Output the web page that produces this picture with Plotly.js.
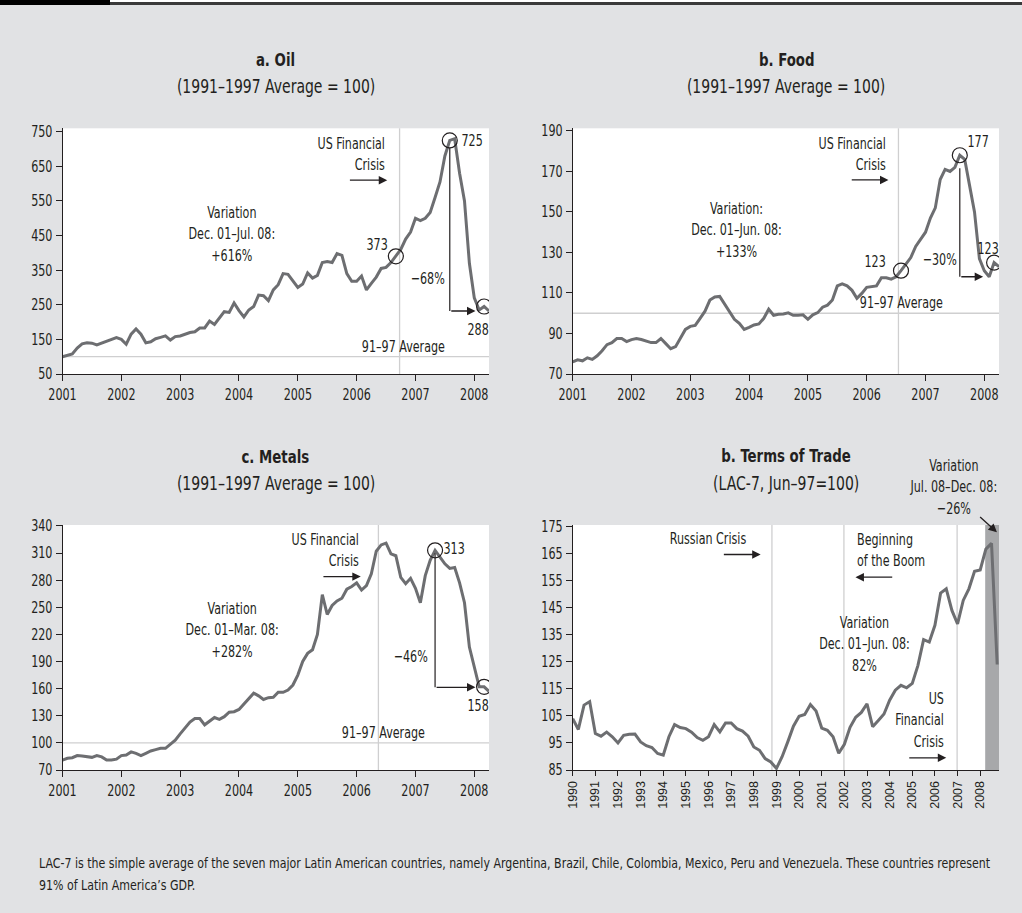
<!DOCTYPE html>
<html><head><meta charset="utf-8">
<script src="https://cdn.plot.ly/plotly-3.0.1.min.js"></script>
<style>html,body{margin:0;padding:0;background:#e1e2e4;}#chart{width:1022px;height:913px;}</style>
</head><body><div id="chart"></div>
<script>
// ---------- DATA ----------
const monthlyStartYear = 2001;
const oilValues = [100,104,108,125,137,140,139,134,139,145,150,155,
  150,136,165,180,165,140,143,152,156,160,148,158,
  160,165,170,172,183,183,203,193,210,230,228,255,
  233,215,235,245,278,276,262,293,308,340,338,320,
  300,310,342,327,335,372,375,372,398,393,340,318,
  318,333,293,312,330,355,358,372,390,410,440,460,
  500,493,500,517,560,605,680,725,730,630,550,370,
  270,235,245,232];
const foodValues = [76,77,76.5,78,77.2,79,81.5,84.5,85.5,87.5,87.5,86,
  87,87.5,87,86.2,85.5,85.5,87.5,85,82.5,83.5,87.5,92,
  93.5,94,97.5,101,106.5,108,108.3,104.5,101,97,95,92,
  93,94.2,94.7,97.5,102,99,99.5,99.6,100.2,99,99,99.2,
  97,99.2,100.3,103,104,106.5,113.5,114.5,113.5,111.3,107.4,109.8,
  112.8,113.3,113.5,117.5,117.5,116.8,118,121,124,127.5,133,136.5,
  140,147,152,166,171,170,172,178,176,163,150,127,
  121,118,125,123];
const metalsValues = [81,83,83.6,86,85.5,84.5,84,85.9,84.5,81,81,82,
  85.9,86.6,90,88.4,86,88.5,91,92.5,94,94,99,103,
  110,116,123,127,127,120,124,128,126,129,134,134.5,
  137,143,148,155,152,148,150,150.4,156,156,158.5,164,
  175,190,199,203,220,264,242,252,257,260,270,273,
  277,269,274,287,312,319,321,309,307,283,276,282,
  271,255,285,302,313,305,298,293,294,277,255,206,
  185,162,162,157];
const totStartYear = 1990;
const totValues = [104,100,109,110.3,98.5,97.5,99,97.3,95,97.8,98.2,98.3,
  95.4,94,93.3,91.1,90.5,97.3,101.8,100.7,100.3,99,97,96,
  97.3,101.8,99.1,102.4,102.4,100.3,99.4,97.5,93.5,92.3,89.2,88,
  85.6,89.9,95.4,101.2,104.9,105.5,109.2,106.8,100.5,99.7,97.3,91.2,
  94.5,100.8,104.5,106.3,109.5,101,103.3,105.7,110.8,114.5,116.3,115.4,
  117,123.7,133.2,132.3,138.5,150.4,152,144,139,147.7,152,158.5,
  159,166.7,168.8,124];
const commodityYears = [2001,2002,2003,2004,2005,2006,2007,2008];
const totYears = [1990,1991,1992,1993,1994,1995,1996,1997,1998,1999,2000,2001,2002,2003,2004,2005,2006,2007,2008];
const oilTicks = [50,150,250,350,450,550,650,750];
const foodTicks = [70,90,110,130,150,170,190];
const metalsTicks = [70,100,130,160,190,220,250,280,310,340];
const totTicks = [85,95,105,115,125,135,145,155,165,175];
const averageLevel = 100;
const oilCircleIdx = [68,79,86];
const foodCircleIdx = [67,79,86];
const metalsCircleIdx = [76,86];

// ---------- HELPERS ----------
const monthX = arr => arr.map((_, i) => monthlyStartYear + i / 12);
const quarterX = arr => arr.map((_, i) => totStartYear + i / 4);
const W = 1022, H = 913;
const px = v => v / W, py = v => 1 - v / H;
const TXT = '#231f20';
const NARROW = '"Liberation Sans Narrow","Arial Narrow","DejaVu Sans Condensed",sans-serif';
const LINE = '#6d6e71';
// font sizes and the horizontal condensing applied to each
const F_TITLE = 18.5, F_SUB = 19, F_ANN = 16.5, F_TICK = 15.5, F_NOTE = 14;
const CONDENSE = {18.5: 0.8, 19: 0.82, 16.5: 0.75, 15.5: 0.8, 14: 0.875};

function series(vals, xs, xa, ya) {
  return {x: xs, y: vals, xaxis: xa, yaxis: ya, type: 'scatter', mode: 'lines',
    line: {color: LINE, width: 3}, hoverinfo: 'skip', showlegend: false};
}
function circles(vals, xs, idx, xa, ya) {
  return {x: idx.map(i => xs[i]), y: idx.map(i => vals[i]), xaxis: xa, yaxis: ya,
    type: 'scatter', mode: 'markers', showlegend: false, hoverinfo: 'skip',
    marker: {symbol: 'circle-open', size: 15, color: TXT, line: {width: 1.2, color: TXT}}};
}
const oX = monthX(oilValues), fX = monthX(foodValues), mX = monthX(metalsValues), tX = quarterX(totValues);

const data = [
  series(oilValues, oX, 'x', 'y'), circles(oilValues, oX, oilCircleIdx, 'x', 'y'),
  series(foodValues, fX, 'x2', 'y2'), circles(foodValues, fX, foodCircleIdx, 'x2', 'y2'),
  series(metalsValues, mX, 'x3', 'y3'), circles(metalsValues, mX, metalsCircleIdx, 'x3', 'y3'),
  series(totValues, tX, 'x4', 'y4')
];

function axis(extra) {
  return Object.assign({showline: true, linecolor: TXT, linewidth: 1, ticks: 'outside', ticklen: 6,
    tickcolor: TXT, tickwidth: 1, showgrid: false, zeroline: false, fixedrange: true,
    tickfont: {family: NARROW, size: F_TICK, color: TXT}}, extra);
}
const domX1 = [px(62.5), px(489)], domX2 = [px(572.7), px(999)];
const domTop = [py(374), py(128.3)], domBot = [py(770), py(525)];

const layout = {
  width: W, height: H, margin: {l: 0, r: 0, t: 0, b: 0},
  paper_bgcolor: '#e1e2e4', plot_bgcolor: '#ffffff', showlegend: false,
  font: {family: NARROW, color: TXT, size: F_ANN},
  xaxis: axis({domain: domX1, anchor: 'y', range: [2001, 2008.25], tickvals: commodityYears}),
  yaxis: axis({domain: domTop, anchor: 'x', range: [50, 760], tickvals: oilTicks}),
  xaxis2: axis({domain: domX2, anchor: 'y2', range: [2001, 2008.25], tickvals: commodityYears}),
  yaxis2: axis({domain: domTop, anchor: 'x2', range: [70, 191.3], tickvals: foodTicks}),
  xaxis3: axis({domain: domX1, anchor: 'y3', range: [2001, 2008.25], tickvals: commodityYears}),
  yaxis3: axis({domain: domBot, anchor: 'x3', range: [70, 341], tickvals: metalsTicks}),
  xaxis4: axis({domain: domX2, anchor: 'y4', range: [1990, 2008.83], tickvals: totYears, tickangle: -90,
    ticklen: 5, tickfont: {family: '"Liberation Sans",sans-serif', size: 12.5, color: TXT}}),
  yaxis4: axis({domain: domBot, anchor: 'x4', range: [85, 175.6], tickvals: totTicks}),
  shapes: [], annotations: []
};

const S = layout.shapes, A = layout.annotations;
// header
S.push({type: 'rect', xref: 'paper', yref: 'paper', x0: px(110), x1: 1, y0: py(2), y1: 1, fillcolor: '#ffffff', line: {width: 0}});
S.push({type: 'rect', xref: 'paper', yref: 'paper', x0: px(110), x1: 1, y0: py(5), y1: py(2), fillcolor: '#3a3a3a', line: {width: 0}});
S.push({type: 'rect', xref: 'paper', yref: 'paper', x0: 0, x1: px(110), y0: py(5), y1: 1, fillcolor: '#000000', line: {width: 0}});

const REF = '#cfcfd0';
function hline(xa, ya, yv) { S.push({type: 'line', layer: 'below', xref: xa + ' domain', yref: ya, x0: 0, x1: 1, y0: yv, y1: yv, line: {color: REF, width: 1.3}}); }
function vline(xa, ya, xv) { S.push({type: 'line', layer: 'below', xref: xa, yref: ya + ' domain', x0: xv, x1: xv, y0: 0, y1: 1, line: {color: REF, width: 1.3}}); }
function seg(xa, ya, x0, y0, x1, y1) { S.push({type: 'line', xref: xa, yref: ya, x0, y0, x1, y1, line: {color: TXT, width: 1.2}}); }
function txt(xa, ya, x, y, t, opt) { A.push(Object.assign({xref: xa, yref: ya, x, y, text: t, showarrow: false, xanchor: 'center', yanchor: 'middle', font: {family: NARROW, size: F_ANN, color: TXT}}, opt || {})); }
function arrow(xa, ya, x0, y0, x1, y1) { A.push({xref: xa, yref: ya, axref: xa, ayref: ya, x: x1, y: y1, ax: x0, ay: y0, text: '', showarrow: true, arrowhead: 2, arrowsize: 1.3, arrowwidth: 1.3, arrowcolor: TXT, standoff: 0, startstandoff: 0}); }

// titles
function title(xc, yt, ys, t, s) {
  txt('paper', 'paper', xc, yt, '<b>' + t + '</b>', {font: {family: NARROW, size: F_TITLE, color: TXT}});
  txt('paper', 'paper', xc, ys, s, {font: {family: NARROW, size: F_SUB, color: TXT}});
}
title(px(275.7), py(59), py(86), 'a. Oil', '(1991–1997 Average = 100)');
title(px(786), py(59), py(86), 'b. Food', '(1991–1997 Average = 100)');
title(px(275.7), py(456), py(483), 'c. Metals', '(1991–1997 Average = 100)');
title(px(786), py(455), py(483), 'b. Terms of Trade', '(LAC-7, Jun–97=100)');

// Oil
hline('x', 'y', averageLevel); vline('x', 'y', 2006.73);
txt('x', 'y', 2006.516, 686, 'US Financial<br>Crisis', {xanchor: 'right', align: 'right'});
arrow('x', 'y', 2005.86, 610, 2006.52, 610);
txt('x', 'y', 2003.88, 456, 'Variation<br>Dec. 01–Jul. 08:<br>+616%');
txt('x', 'y', 2006.35, 425, '373');
txt('x', 'y', 2007.96, 726, '725');
txt('x', 'y', 2007.2, 327, '−68%');
txt('x', 'y', 2008.07, 180, '288');
txt('x', 'y', 2006.8, 129, '91–97 Average');
seg('x', 'y', oX[79], 703, oX[79], 232);
arrow('x', 'y', oX[79], 232, 2008.02, 232);

// Food
hline('x2', 'y2', averageLevel); vline('x2', 'y2', 2006.54);
txt('x2', 'y2', 2006.37, 178.7, 'US Financial<br>Crisis', {xanchor: 'right', align: 'right'});
arrow('x2', 'y2', 2005.72, 165.8, 2006.37, 165.8);
txt('x2', 'y2', 2003.78, 141, 'Variation:<br>Dec. 01–Jun. 08:<br>+133%');
txt('x2', 'y2', 2007.9, 184.7, '177');
txt('x2', 'y2', 2007.24, 126.6, '−30%');
txt('x2', 'y2', 2008.07, 132, '123');
txt('x2', 'y2', 2006.14, 125.5, '123');
txt('x2', 'y2', 2006.6, 105.2, '91–97 Average');
seg('x2', 'y2', fX[79], 171.6, fX[79], 118);
arrow('x2', 'y2', fX[79], 118, 2007.98, 118);

// Metals
hline('x3', 'y3', averageLevel); vline('x3', 'y3', 2006.37);
txt('x3', 'y3', 2006.07, 312.9, 'US Financial<br>Crisis', {xanchor: 'right', align: 'right'});
arrow('x3', 'y3', 2005.41, 283.9, 2006.07, 283.9);
txt('x3', 'y3', 2003.88, 224.9, 'Variation<br>Dec. 01–Mar. 08:<br>+282%');
txt('x3', 'y3', 2007.65, 315, '313');
txt('x3', 'y3', 2006.92, 195.4, '−46%');
txt('x3', 'y3', 2008.07, 140.8, '158');
txt('x3', 'y3', 2006.45, 111.3, '91–97 Average');
seg('x3', 'y3', mX[76], 309.8, mX[76], 161.5);
arrow('x3', 'y3', mX[76], 161.5, 2008.02, 161.5);

// Terms of trade
S.push({type: 'rect', layer: 'below', xref: 'x4', yref: 'y4 domain', x0: 2008.22, x1: 2008.83, y0: 0, y1: 1, fillcolor: '#a7a8aa', line: {width: 0}});
vline('x4', 'y4', 1998.8); vline('x4', 'y4', 2001.98); vline('x4', 'y4', 2006.98);
txt('x4', 'y4', 1998.3, 170.5, 'Russian Crisis', {xanchor: 'right'});
arrow('x4', 'y4', 1996.61, 164.7, 1998.3, 164.7);
txt('x4', 'y4', 2002.45, 166.3, 'Beginning<br>of the Boom', {xanchor: 'left', align: 'left'});
arrow('x4', 'y4', 2004.18, 156.3, 2002.49, 156.3);
txt('x4', 'y4', 2002.9, 131.7, 'Variation<br>Dec. 01–Jun. 08:<br>82%');
txt('x4', 'y4', 2006.5, 103.4, 'US<br>Financial<br>Crisis', {xanchor: 'right', align: 'right'});
arrow('x4', 'y4', 2004.8, 89.5, 2006.5, 89.5);
txt('paper', 'paper', px(953.3), py(487.3), 'Variation<br>Jul. 08–Dec. 08:<br>−26%');
arrow('x4', 'y4', 2007.93, 179.1, 2008.74, 172.9);

// note
txt('paper', 'paper', px(37), py(863), "LAC-7 is the simple average of the seven major Latin American countries, namely Argentina, Brazil, Chile, Colombia, Mexico, Peru and Venezuela. These countries represent", {xanchor: 'left', align: 'left', font: {family: NARROW, size: F_NOTE, color: TXT}});
txt('paper', 'paper', px(37), py(885), "91% of Latin America’s GDP.", {xanchor: 'left', align: 'left', font: {family: NARROW, size: F_NOTE, color: TXT}});

// condense the text horizontally around its anchor point, to mimic a condensed face
function condense(gd) {
  gd.querySelectorAll('svg text').forEach(t => {
    const fs = parseFloat(t.style.fontSize);
    const s = CONDENSE[fs];
    if (!s || t.getAttribute('data-cond')) return;
    const X = parseFloat(t.getAttribute('x')) || 0;
    const tr = t.getAttribute('transform') || '';
    t.setAttribute('transform', tr + ' translate(' + X + ',0) scale(' + s + ',1) translate(' + (-X) + ',0)');
    t.setAttribute('data-cond', '1');
  });
}
Plotly.newPlot('chart', data, layout, {displayModeBar: false, staticPlot: true}).then(condense);
</script></body></html>
